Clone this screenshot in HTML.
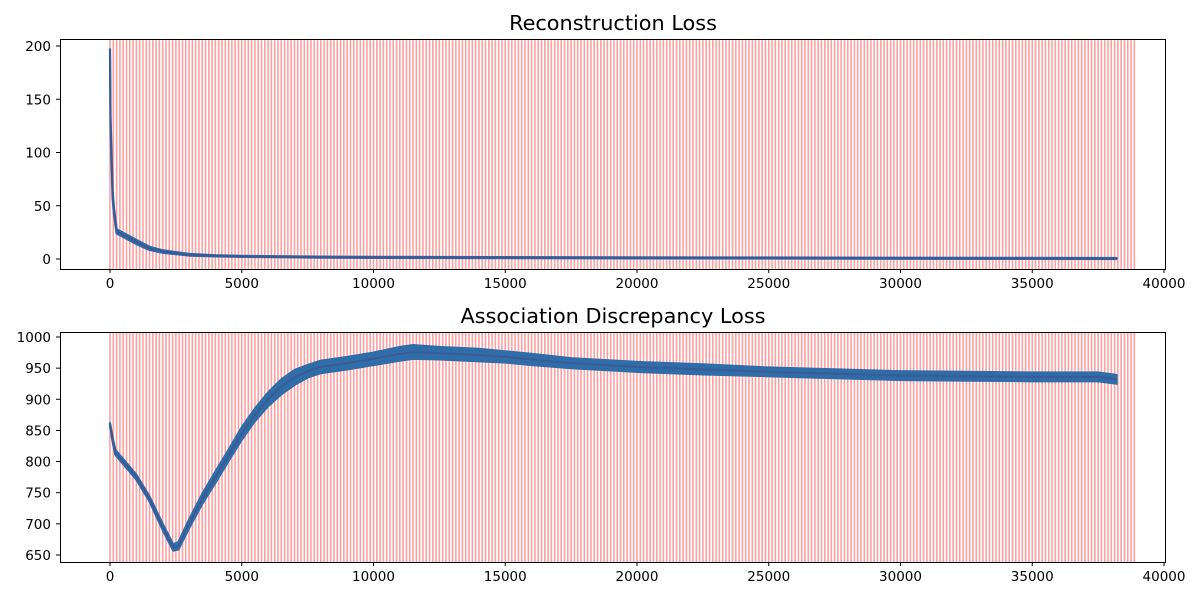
<!DOCTYPE html>
<html><head><meta charset="utf-8"><style>
body{margin:0;background:#fff}
svg{display:block;font-family:"DejaVu Sans","Liberation Sans",sans-serif}
</style></head><body>
<svg id="fig" width="1200" height="600"></svg>
<script>
// x positions (training steps) and values
const reconSteps = [0,20,50,100,150,250,400,700,1000,1500,2000,2500,3000,4000,5000,6000,8000,10000,15000,20000,25000,30000,35000,38200];
const reconValues = [197,130,100,60,45,26,24,20,16,10,7,5.5,4,3,2.5,2.2,1.8,1.5,1.3,1.1,0.9,0.7,0.6,0.5];
const reconSpread = [0,4,6,4,3,2,2,2,2,1.5,1.2,1,0.8,0.6,0.5,0.5,0.5,0.5,0.5,0.5,0.5,0.5,0.5,0.5];
const assocSteps = [0,100,200,500,1000,1500,2000,2400,2600,3000,3500,4000,4500,5000,5500,6000,6500,7000,7500,8000,9000,10000,11000,11500,12500,14000,15000,16000,17500,20000,22500,25000,27500,30000,32500,35000,37500,38200];
const assocValues = [860,835,815,800,775,740,695,662,665,700,740,775,810,845,875,900,920,935,945,952,958,965,973,976,974,971,968,964,958,952,948,944,941,938,937,936,936,932];
const assocSpread = [2,3,4,4,4,4,5,5,6,7,8,9,9,10,10,11,12,12,10,10,10,10,11,11,10,10,9,9,8,8,8,7,7,7,7,7,7,7];
const reconTicks = [0,50,100,150,200];
const assocTicks = [650,700,750,800,850,900,950,1000];
const xTicks = [0,5000,10000,15000,20000,25000,30000,35000,40000];
const redStep = 125, redMax = 38875;

const NS="http://www.w3.org/2000/svg";
const svg=document.getElementById('fig');
function el(tag,attrs,parent){const e=document.createElementNS(NS,tag);for(const k in attrs)e.setAttribute(k,attrs[k]);(parent||svg).appendChild(e);return e;}
const xScale=v=>110+v*(1054/40000);

function panel(name,title,top,bottom,yMin,yMax,yPx0,yPx1,ticks,steps,vals,spread){
  const g=el('g',{});
  
  
  const yScale=v=>yPx0+(v-yMin)*(yPx1-yPx0)/(yMax-yMin);
  const t=el('text',{x:613,y:top-9,'text-anchor':'middle','font-size':'20.8'},g);
  t.textContent=title;
  
  
  for(let s=0;s<=redMax;s+=redStep){
    const l=el('line',{x1:xScale(s),x2:xScale(s),y1:top,y2:bottom,stroke:'#ffa0a0','stroke-width':1.6},g);
    
    
  }
  let up='',dn='';
  steps.forEach((s,i)=>{up+=(i?'L':'M')+xScale(s)+','+yScale(vals[i]+spread[i]);});
  for(let i=steps.length-1;i>=0;i--)dn+='L'+xScale(steps[i])+','+yScale(vals[i]-spread[i]);
  const band=el('path',{d:up+dn+'Z',fill:'#2f6da8',stroke:'#2f6da8','stroke-width':2.2,'stroke-linejoin':'round'},g);
  
  
  let d='';steps.forEach((s,i)=>{d+=(i?'L':'M')+xScale(s)+','+yScale(vals[i]);});
  const line=el('path',{d:d,fill:'none',stroke:'#3a5a95','stroke-width':2},g);
  
  
  const fr=el('rect',{x:60.5,y:top+0.5,width:1105,height:bottom-top,fill:'none',stroke:'#000','stroke-width':1},g);
  
  
  ticks.forEach(v=>{
    const y=yScale(v);
    el('line',{x1:56,x2:60,y1:y,y2:y,stroke:'#000'},g);
    const tx=el('text',{x:51,y:y+5,'text-anchor':'end','font-size':'13.5'},g);
    tx.textContent=v;
    
    
  });
  xTicks.forEach(v=>{
    const x=xScale(v);
    el('line',{x1:x,x2:x,y1:bottom,y2:bottom+4,stroke:'#000'},g);
    const tx=el('text',{x:x,y:bottom+19,'text-anchor':'middle','font-size':'13.5'},g);
    tx.textContent=v;
    
    
  });
}
panel('reconstruction','Reconstruction Loss',39,269,0,200,259,46,reconTicks,reconSteps,reconValues,reconSpread);
panel('association','Association Discrepancy Loss',332,562,650,1000,555,337,assocTicks,assocSteps,assocValues,assocSpread);
</script>
</body></html>
